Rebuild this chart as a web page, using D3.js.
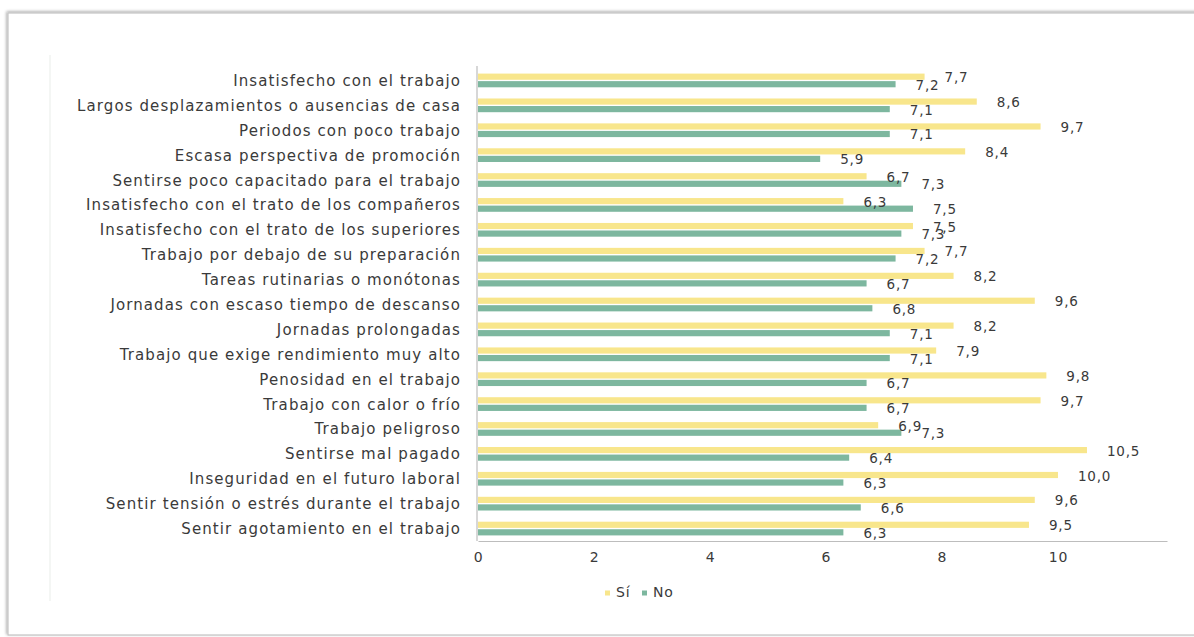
<!DOCTYPE html>
<html>
<head>
<meta charset="utf-8">
<script src="https://cdn.jsdelivr.net/npm/d3@7/dist/d3.min.js"></script>
<style>
  body { margin: 0; background: #fff; }
  svg { display: block; }
</style>
</head>
<body>
<div id="chart"></div>
<script>
var categories = ["Insatisfecho con el trabajo","Largos desplazamientos o ausencias de casa","Periodos con poco trabajo","Escasa perspectiva de promoción","Sentirse poco capacitado para el trabajo","Insatisfecho con el trato de los compañeros","Insatisfecho con el trato de los superiores","Trabajo por debajo de su preparación","Tareas rutinarias o monótonas","Jornadas con escaso tiempo de descanso","Jornadas prolongadas","Trabajo que exige rendimiento muy alto","Penosidad en el trabajo","Trabajo con calor o frío","Trabajo peligroso","Sentirse mal pagado","Inseguridad en el futuro laboral","Sentir tensión o estrés durante el trabajo","Sentir agotamiento en el trabajo"]
var si = [7.7, 8.6, 9.7, 8.4, 6.7, 6.3, 7.5, 7.7, 8.2, 9.6, 8.2, 7.9, 9.8, 9.7, 6.9, 10.5, 10.0, 9.6, 9.5]
var no = [7.2, 7.1, 7.1, 5.9, 7.3, 7.5, 7.3, 7.2, 6.7, 6.8, 7.1, 7.1, 6.7, 6.7, 7.3, 6.4, 6.3, 6.6, 6.3]
var seriesNames = ["Sí", "No"]
var xTicks = [0, 2, 4, 6, 8, 10]

var W = 1194, H = 637
var fontFam = "'Century Gothic', 'DejaVu Sans', sans-serif"
var colors = {"Sí": "#f8e68c", "No": "#7db79f"}
var textColor = "#3a3a3a"

var svg = d3.select("#chart").append("svg")
    .attr("width", W)
    .attr("height", H)

// frame with soft shadow
var defs = svg.append("defs")
var f = defs.append("filter").attr("id", "sh").attr("x", "-5%").attr("y", "-5%").attr("width", "110%").attr("height", "110%")
f.append("feGaussianBlur").attr("in", "SourceAlpha").attr("stdDeviation", 1.5)
f.append("feOffset").attr("dx", -1).attr("dy", -1).attr("result", "b")
f.append("feComponentTransfer").append("feFuncA").attr("type", "linear").attr("slope", 0.35)
var fm = f.append("feMerge")
fm.append("feMergeNode")
fm.append("feMergeNode").attr("in", "SourceGraphic")

svg.append("rect")
    .attr("x", 8).attr("y", 13)
    .attr("width", W + 20).attr("height", 622)
    .attr("fill", "#fff")
    .attr("stroke", "#c4c4c4")
    .attr("stroke-width", 1.2)
    .attr("filter", "url(#sh)")

// faint inner panel edge
svg.append("line")
    .attr("x1", 50).attr("x2", 50).attr("y1", 55).attr("y2", 601)
    .attr("stroke", "#f1f3f1").attr("stroke-width", 1.5)

var x = d3.scaleLinear().domain([0, 11.88]).range([478, 1167])
var y = d3.scaleBand().domain(categories).range([68, 541]).paddingInner(0.34).paddingOuter(0.17)
var ySub = d3.scaleBand().domain(seriesNames).range([0, y.bandwidth()]).padding(0.18)

var locale = d3.formatLocale({decimal: ",", thousands: ".", grouping: [3], currency: ["", "€"]})
var fmt = locale.format(".1f")

var rows = categories.map(function(c, i) {
    return {cat: c, vals: [{s: "Sí", v: si[i]}, {s: "No", v: no[i]}]}
})

var g = svg.selectAll("g.row")
    .data(rows)
    .enter().append("g")
    .attr("class", "row")
    .attr("transform", function(d) { return "translate(0," + y(d.cat) + ")" })

g.selectAll("rect")
    .data(function(d) { return d.vals })
    .enter().append("rect")
    .attr("x", x(0))
    .attr("y", function(d) { return ySub(d.s) })
    .attr("width", function(d) { return x(d.v) - x(0) })
    .attr("height", ySub.bandwidth())
    .attr("fill", function(d) { return colors[d.s] })

g.selectAll("text.val")
    .data(function(d) { return d.vals })
    .enter().append("text")
    .attr("class", "val")
    .attr("x", function(d) { return x(d.v) + 20 })
    .attr("y", function(d) { return ySub(d.s) + ySub.bandwidth() / 2 + 1.5 })
    .attr("dominant-baseline", "middle")
    .style("font-family", fontFam)
    .style("font-size", "13.5px")
    .style("letter-spacing", "0.8px")
    .attr("fill", textColor)
    .text(function(d) { return fmt(d.v) })

// category labels
svg.append("g")
    .selectAll("text")
    .data(categories)
    .enter().append("text")
    .attr("x", 461)
    .attr("y", function(d) { return y(d) + y.bandwidth() / 2 + 1 })
    .attr("text-anchor", "end")
    .attr("dominant-baseline", "middle")
    .style("font-family", fontFam)
    .style("font-size", "15px")
    .style("letter-spacing", "1.1px")
    .attr("fill", textColor)
    .text(function(d) { return d })

// axes
var xAxis = svg.append("g")
    .attr("transform", "translate(0,541)")
    .call(d3.axisBottom(x).tickValues(xTicks).tickSize(0).tickPadding(11))
xAxis.select(".domain").attr("stroke", "#bdbdbd").attr("stroke-width", 1.2)
xAxis.selectAll("text")
    .style("font-family", fontFam)
    .style("font-size", "14px")
    .style("letter-spacing", "0.8px")
    .attr("fill", textColor)

svg.append("line")
    .attr("x1", x(0) - 1).attr("x2", x(0) - 1)
    .attr("y1", 66).attr("y2", 541)
    .attr("stroke", "#bdbdbd").attr("stroke-width", 1.2)

// legend
var legend = svg.append("g").attr("transform", "translate(605,593)")
var lx = [0, 37]
seriesNames.forEach(function(s, i) {
    legend.append("rect")
        .attr("x", lx[i]).attr("y", -2.5)
        .attr("width", 5).attr("height", 5)
        .attr("fill", colors[s])
    legend.append("text")
        .attr("x", lx[i] + 11).attr("y", 0)
        .attr("dominant-baseline", "middle")
        .style("font-family", fontFam)
        .style("font-size", "14px")
        .style("letter-spacing", "0.8px")
        .attr("fill", textColor)
        .text(s)
})
</script>
</body>
</html>
